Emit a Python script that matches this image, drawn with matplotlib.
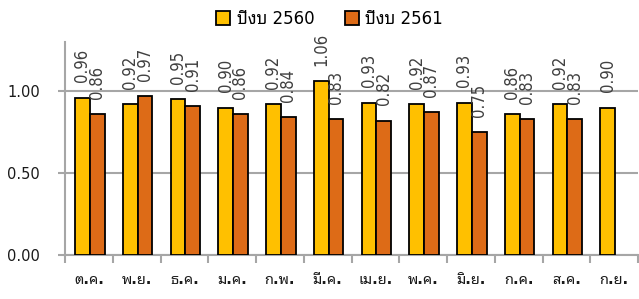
import matplotlib
matplotlib.use("Agg")
import matplotlib.pyplot as plt
import numpy as np
from matplotlib.patches import Patch

months = ["ต.ค.", "พ.ย.", "ธ.ค.", "ม.ค.", "ก.พ.", "มี.ค.", "เม.ย.", "พ.ค.", "มิ.ย.", "ก.ค.", "ส.ค.", "ก.ย."]
fy2560 = [0.96, 0.92, 0.95, 0.90, 0.92, 1.06, 0.93, 0.92, 0.93, 0.86, 0.92, 0.90]
fy2561 = [0.86, 0.97, 0.91, 0.86, 0.84, 0.83, 0.82, 0.87, 0.75, 0.83, 0.83]
series_names = ["ปีงบ 2560", "ปีงบ 2561"]
yticks = [0.0, 0.5, 1.0]

THAI = ["DejaVu Sans", "Noto Sans Thai Looped"]
c1, c2 = "#FFC000", "#DD6B17"
grid_c = "#A6A6A6"

fig = plt.figure(figsize=(6.39, 2.99), dpi=100)
ax = fig.add_axes([65/639, 1-255/299, 573/639, (255-42)/299])

x = np.arange(len(months))
w = 0.31
b1 = ax.bar(x[:len(fy2560)] - w/2 + 0.02, fy2560, w, color=c1, edgecolor="black", linewidth=1.3, zorder=3)
b2 = ax.bar(x[:len(fy2561)] + w/2 + 0.02, fy2561, w, color=c2, edgecolor="black", linewidth=1.3, zorder=3)

for bars, vals in ((b1, fy2560), (b2, fy2561)):
    for r, v in zip(bars, vals):
        ax.annotate(f"{v:.2f}", (r.get_x() + r.get_width()/2, v), xytext=(0, 11),
                    textcoords="offset points", rotation=90, ha="center", va="bottom",
                    fontsize=12, family="DejaVu Sans", fontstretch="condensed",
                    color="#404040", zorder=4)

ax.set_xlim(-0.5, len(months) - 0.5)
ax.set_ylim(0, 1.3)
ax.set_yticks(yticks)
ax.set_yticklabels([f"{t:.2f}" for t in yticks], fontsize=10.5, color="#1a1a1a")
ax.yaxis.grid(True, color=grid_c, linewidth=1.5, zorder=0)
ax.set_axisbelow(True)
ax.tick_params(axis="y", length=5, width=1.5, color=grid_c, pad=13)

ax.set_xticks(x)
ax.set_xticklabels(months, fontsize=10.5, family=THAI, color="#1a1a1a", fontweight="bold")
ax.set_xticks(np.arange(-0.5, len(months)), minor=True)
ax.tick_params(axis="x", which="major", length=0, pad=12)
ax.tick_params(axis="x", which="minor", length=6, width=1.5, color=grid_c)

for s in ("top", "right"):
    ax.spines[s].set_visible(False)
for s in ("left", "bottom"):
    ax.spines[s].set_color(grid_c)
    ax.spines[s].set_linewidth(1.5)

handles = [Patch(facecolor=c1, edgecolor="black", linewidth=1.3),
           Patch(facecolor=c2, edgecolor="black", linewidth=1.3)]
fig.legend(handles, series_names, loc="center", bbox_to_anchor=(0.516, 0.936), ncol=2,
           frameon=False, prop={"family": THAI, "size": 12}, handlelength=0.85, handleheight=0.9,
           handletextpad=0.4, columnspacing=1.8)

fig.savefig("out.png")
